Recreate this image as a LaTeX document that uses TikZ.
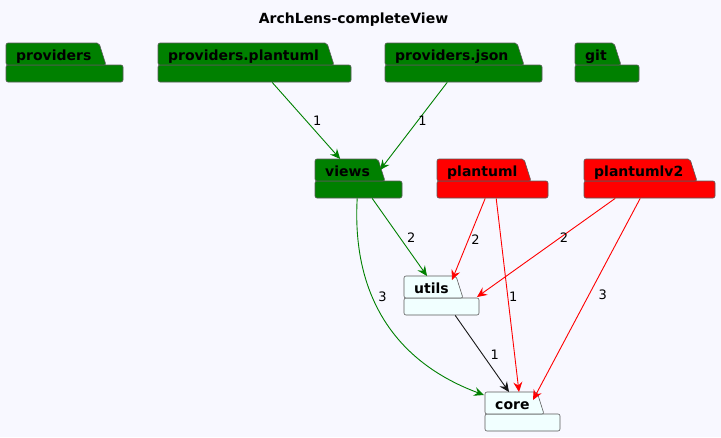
\documentclass[tikz,border=0pt]{standalone}
\usepackage{fontspec}
\setmainfont{DejaVu Sans}
\usepackage{tikz}
\usetikzlibrary{arrows.meta,positioning}

\definecolor{bg}{HTML}{F8F8FF}
\definecolor{pgreen}{HTML}{008000}
\definecolor{pred}{HTML}{FF0000}
\definecolor{plight}{HTML}{F1FFFF}
\definecolor{pborder}{HTML}{5A5A5A}
\definecolor{dark}{HTML}{181818}

% #1 name, #2 left, #3 top, #4 tab right, #5 body right, #6 fill, #7 text
\newcommand{\pkg}[7]{%
  \draw[pline,fill=#6] (#2,#3+22) -- (#2,#3+39) -- (#5,#3+39) -- (#5,#3+22) -- cycle;
  \draw[pline,fill=#6] (#2,#3+22) -- (#2,#3) -- (#4,#3) -- (#4+7,#3+22) -- cycle;
  \node[pbox,minimum width={(#5-#2)*1pt}] (#1) at (#2,#3) {};
  \node[ptext] (#1-name) at (#2+10,#3+17) {#7};
}

\begin{document}
\begin{tikzpicture}[x=1pt,y=-1pt,
    pline/.style={draw=pborder,line width=0.6pt,rounded corners=2pt},
    pbox/.style={draw=none,inner sep=0pt,anchor=north west,minimum height=39pt},
    ptext/.style={anchor=base west,inner sep=0pt,font=\bfseries\fontsize{14}{16}\selectfont},
    dep/.style={line width=0.9pt,-{Stealth[length=10pt,width=9pt,inset=3.5pt]}},
    lbl/.style={inner sep=0pt,text=black,font=\fontsize{13}{15}\selectfont}]
  \fill[bg] (0,0) rectangle (721,437);
  \useasboundingbox (0,0) rectangle (721,437);

  \node[anchor=base,font=\bfseries\fontsize{14}{16}\selectfont] (title) at (353.5,23) {ArchLens-completeView};

  \pkg{providers}{6}{43}{99}{123}{pgreen}{providers}
  \pkg{provplantuml}{158}{43}{327}{351}{pgreen}{providers.plantuml}
  \pkg{provjson}{385}{43}{517}{542}{pgreen}{providers.json}
  \pkg{git}{575}{43}{614}{639}{pgreen}{git}
  \pkg{views}{315}{159}{378}{402}{pgreen}{views}
  \pkg{plantuml}{437}{159}{524}{548}{pred}{plantuml}
  \pkg{plantumlv2}{584}{159}{690}{715}{pred}{plantumlv2}
  \pkg{utils}{404}{276}{456}{479}{plight}{utils}
  \pkg{core}{485}{392}{537}{560}{plight}{core}

  % green
  \draw[dep,pgreen] ([xshift=17.5pt]provplantuml.south) -- ([xshift=-18.5pt]views.north)
    node[lbl,pos=.5,xshift=11pt] {1};
  \draw[dep,pgreen] ([xshift=-16.5pt]provjson.south) -- ([shift={(65,11)}]views.north west)
    node[lbl,pos=.44,xshift=5pt] {1};
  \draw[dep,pgreen] ([xshift=13.5pt]views.south) -- ([shift={(23,0)}]utils.north west)
    node[lbl,pos=.51,xshift=11pt] {2};
  \draw[dep,pgreen] ([xshift=-1.5pt]views.south) .. controls (352,290) and (390,360) .. ([shift={(-1,3)}]core.north west)
    node[lbl,pos=.4,xshift=10pt] {3};
  % red
  \draw[dep,pred] ([xshift=-7.5pt]plantuml.south) -- ([shift={(48,4)}]utils.north west)
    node[lbl,pos=.5,xshift=7pt] {2};
  \draw[dep,pred] ([xshift=3.5pt]plantuml.south) -- ([shift={(34,0)}]core.north west)
    node[lbl,pos=.51,xshift=5.5pt] {1};
  \draw[dep,pred] ([xshift=-34.5pt]plantumlv2.south) -- ([shift={(73,21)}]utils.north west)
    node[lbl,pos=.4,xshift=4pt] {2};
  \draw[dep,pred] ([xshift=-9.5pt]plantumlv2.south) -- ([shift={(48,8)}]core.north west)
    node[lbl,pos=.48,xshift=14pt] {3};
  % black
  \draw[dep,dark] ([xshift=13.5pt]utils.south) -- ([shift={(24,0)}]core.north west)
    node[lbl,pos=.51,xshift=12pt] {1};
\end{tikzpicture}
\end{document}
